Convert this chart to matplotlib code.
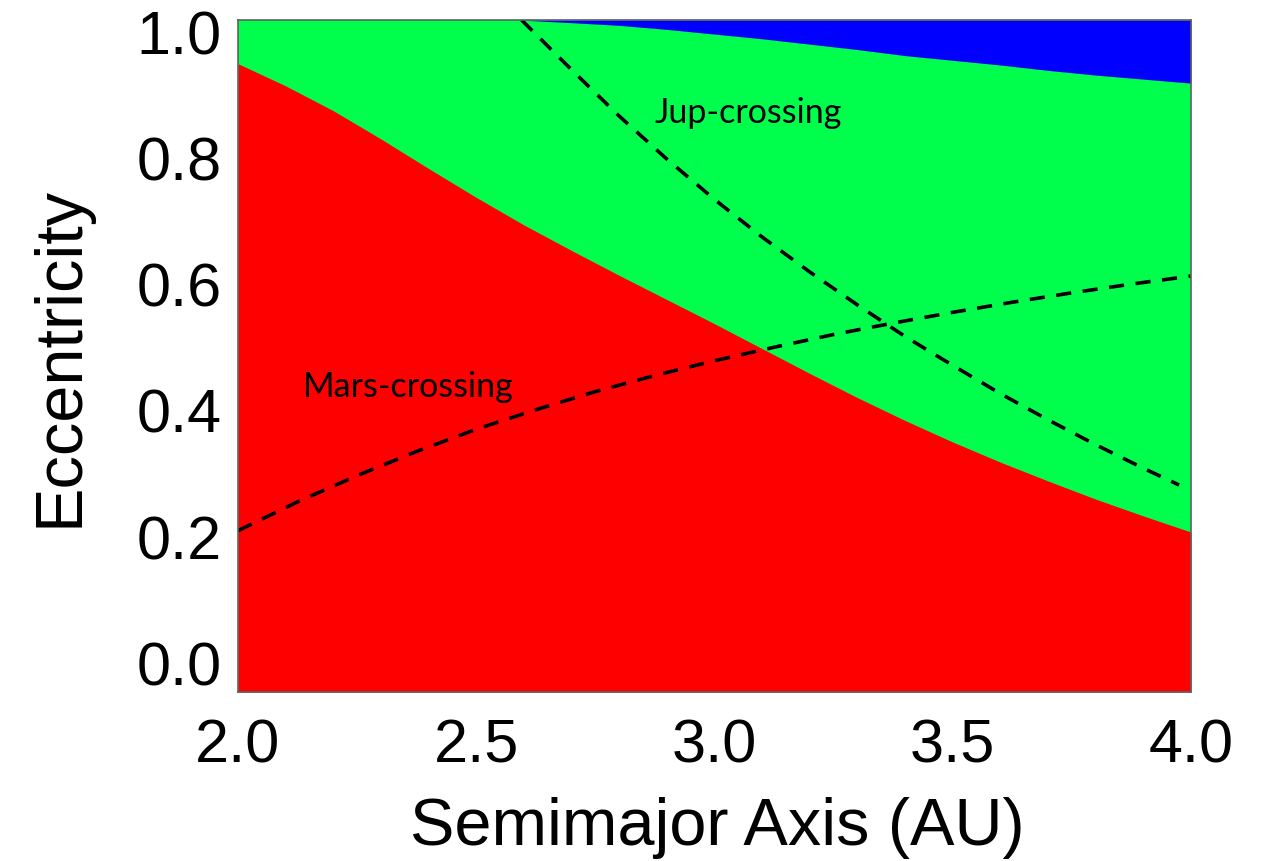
import numpy as np
import matplotlib
matplotlib.use("Agg")
import matplotlib.pyplot as plt

# Semimajor axis grid (AU) and the eccentricity limits of each region
a_red = [2.0, 2.1, 2.2, 2.3, 2.4, 2.5, 2.6, 2.7, 2.8, 2.9, 3.0,
         3.1, 3.2, 3.3, 3.4, 3.5, 3.6, 3.7, 3.8, 3.9, 4.0]
e_red_top = [0.935, 0.902, 0.865, 0.823, 0.779, 0.736, 0.695, 0.657, 0.620,
             0.584, 0.548, 0.511, 0.474, 0.438, 0.404, 0.372, 0.342, 0.314,
             0.287, 0.262, 0.238]

a_blue = [2.59, 2.7, 2.8, 2.9, 3.0, 3.1, 3.2, 3.3, 3.4, 3.5, 3.6, 3.7,
          3.8, 3.9, 4.0]
e_blue_bottom = [1.0, 0.996, 0.992, 0.986, 0.979, 0.972, 0.964, 0.956,
                 0.947, 0.940, 0.933, 0.925, 0.918, 0.912, 0.906]

# Planet-crossing curves
a_mars = [2.0, 2.125, 2.25, 2.375, 2.5, 2.625, 2.75, 2.875, 3.0, 3.125,
          3.25, 3.375, 3.5, 3.625, 3.75, 3.875, 4.0]
e_mars = [0.240, 0.283, 0.322, 0.358, 0.391, 0.420, 0.447, 0.471, 0.493,
          0.513, 0.532, 0.549, 0.565, 0.580, 0.594, 0.607, 0.619]

a_jup = [2.595, 2.7, 2.8, 2.9, 3.0, 3.1, 3.2, 3.3, 3.4, 3.5, 3.6, 3.7,
         3.8, 3.9, 3.975]
e_jup = [1.0, 0.926, 0.857, 0.793, 0.733, 0.677, 0.625, 0.576, 0.529,
         0.486, 0.444, 0.405, 0.368, 0.333, 0.308]

x_ticks = [2.0, 2.5, 3.0, 3.5, 4.0]
x_ticklabels = ["2.0", "2.5", "3.0", "3.5", "4.0"]
y_ticks = [0.0, 0.2, 0.4, 0.6, 0.8, 1.0]
y_ticklabels = ["0.0", "0.2", "0.4", "0.6", "0.8", "1.0"]

RED = "#ff0000"
GREEN = "#00ff4c"
BLUE = "#0000ff"

plt.rcParams["font.family"] = ["Liberation Sans", "DejaVu Sans"]

fig = plt.figure(figsize=(12.64, 8.61), dpi=100)
ax = fig.add_axes([238 / 1264, 169 / 861, 953 / 1264, 672 / 861])

ax.set_xlim(2.0, 4.0)
ax.set_ylim(0.0, 1.0)

# green background for the whole plane, then red below and blue above
ax.axhspan(0.0, 1.0, color=GREEN, lw=0, zorder=0)
ax.fill_between(a_red, 0.0, e_red_top, color=RED, lw=0, zorder=1)
ax.fill_between(a_blue, e_blue_bottom, 1.0, color=BLUE, lw=0, zorder=1)

ax.plot(a_mars, e_mars, color="black", lw=2.6, dashes=(4.2, 3.2), zorder=3)
ax.plot(a_jup, e_jup, color="black", lw=2.6, dashes=(4.2, 3.2), zorder=3)

ann_font = ["Lato", "DejaVu Sans"]
ax.text(2.136, 0.439, "Mars-crossing", family=ann_font, fontsize=24.5,
        ha="left", va="baseline", zorder=4)
ax.text(2.875, 0.847, "Jup-crossing", family=ann_font, fontsize=24.5,
        ha="left", va="baseline", zorder=4)

# ticks hidden under the colour fill; labels carry the scale
ax.set_xticks(x_ticks)
ax.set_xticklabels(x_ticklabels)
ax.tick_params(axis="x", length=0, pad=19, labelsize=44)

ax.set_yticks(y_ticks)
ax.set_yticklabels([])
ax.tick_params(axis="y", length=0)
# y labels are spread slightly inside the axis ends
lab_lo, lab_hi = 0.033, 0.972
for v, s in zip(y_ticks, y_ticklabels):
    ax.text(-0.017, lab_lo + v * (lab_hi - lab_lo), s, transform=ax.transAxes,
            ha="right", va="center", fontsize=44)

ax.set_xlabel("Semimajor Axis (AU)", fontsize=48)
ax.xaxis.set_label_coords(0.503, -0.156)
ax.set_ylabel("Eccentricity", fontsize=48)
ax.yaxis.set_label_coords(-0.154, 0.5)

for sp in ax.spines.values():
    sp.set_color("#606060")
    sp.set_linewidth(1.2)
    sp.set_zorder(5)

fig.savefig("out.png", dpi=100)
